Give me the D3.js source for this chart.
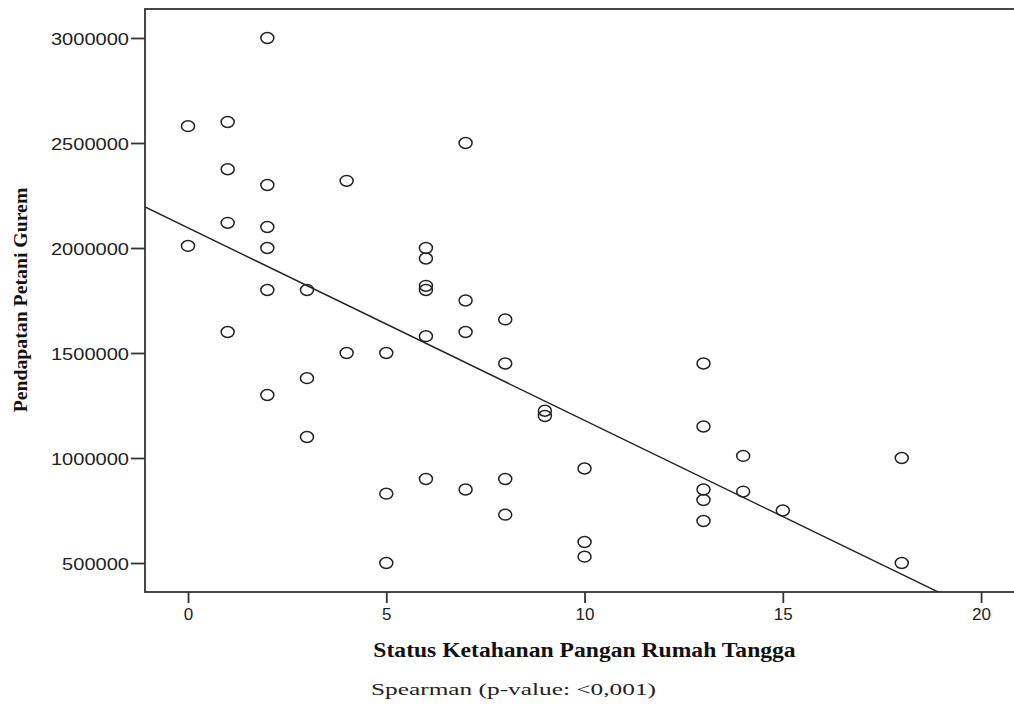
<!DOCTYPE html>
<html>
<head>
<meta charset="utf-8">
<script src="https://cdn.jsdelivr.net/npm/d3@7/dist/d3.min.js"></script>
<style>
  html, body { margin: 0; padding: 0; background: #fff; }
  svg { display: block; }
</style>
</head>
<body>
<svg id="chart" width="1014" height="704"></svg>
<script>
// ---- Data ----
const xValues = [
  0, 0,
  1, 1, 1, 1,
  2, 2, 2, 2, 2, 2,
  3, 3, 3,
  4, 4,
  5, 5, 5,
  6, 6, 6, 6, 6, 6,
  7, 7, 7, 7,
  8, 8, 8, 8,
  9, 9,
  10, 10, 10,
  13, 13, 13, 13, 13,
  14, 14,
  15,
  18, 18
];
const yValues = [
  2580000, 2010000,
  2600000, 2375000, 2120000, 1600000,
  3000000, 2300000, 2100000, 2000000, 1800000, 1300000,
  1800000, 1380000, 1100000,
  2320000, 1500000,
  1500000, 830000, 500000,
  2000000, 1950000, 1820000, 1800000, 1580000, 900000,
  2500000, 1750000, 1600000, 850000,
  1660000, 1450000, 900000, 730000,
  1225000, 1200000,
  950000, 600000, 530000,
  1450000, 1150000, 850000, 800000, 700000,
  1010000, 840000,
  750000,
  1000000, 500000
];
const xTicks = [0, 5, 10, 15, 20];
const yTicks = [500000, 1000000, 1500000, 2000000, 2500000, 3000000];
const fitIntercept = 2095800;
const fitSlope = -91640;
const xDomain = [-1.085, 20.78];
const yDomain = [362000, 3138000];
const xTitle = "Status Ketahanan Pangan Rumah Tangga";
const yTitle = "Pendapatan Petani Gurem";
const footnote = "Spearman (p-value: <0,001)";

// ---- Layout ----
const plot = { left: 145, top: 9, right: 1012, bottom: 592 };
const svg = d3.select("#chart");

const x = d3.scaleLinear().domain(xDomain).range([plot.left, plot.right]);
const y = d3.scaleLinear().domain(yDomain).range([plot.bottom, plot.top]);

svg.append("defs").append("clipPath").attr("id", "clip")
  .append("rect")
  .attr("x", plot.left).attr("y", plot.top)
  .attr("width", plot.right - plot.left + 10).attr("height", plot.bottom - plot.top);

// Frame (right edge falls outside the picture)
svg.append("rect")
  .attr("x", plot.left).attr("y", plot.top)
  .attr("width", 1030 - plot.left).attr("height", plot.bottom - plot.top)
  .attr("fill", "none").attr("stroke", "#333").attr("stroke-width", 1.8);

// Axes
const xAxis = svg.append("g")
  .attr("transform", `translate(0,${plot.bottom})`)
  .call(d3.axisBottom(x).tickValues(xTicks).tickFormat(d3.format("d")).tickSize(11).tickPadding(5));
const yAxis = svg.append("g")
  .attr("transform", `translate(${plot.left},0)`)
  .call(d3.axisLeft(y).tickValues(yTicks).tickFormat(d3.format("d")).tickSize(14).tickPadding(2));

[xAxis, yAxis].forEach(g => {
  g.select(".domain").remove();
  g.selectAll(".tick line").attr("stroke", "#333").attr("stroke-width", 1.8);
  g.selectAll(".tick text")
    .attr("fill", "#222")
    .style("font-family", "'Liberation Sans', Arial, sans-serif");
});
xAxis.selectAll(".tick text").style("font-size", "17px");
yAxis.selectAll(".tick text").style("font-size", "17px").attr("dy", "0.36em");
yAxis.selectAll(".tick text").each(function () {
  const w = this.getComputedTextLength();
  d3.select(this).attr("textLength", w * 1.18).attr("lengthAdjust", "spacingAndGlyphs");
});

// Regression line
const fit = d3.line().x(d => x(d)).y(d => y(fitIntercept + fitSlope * d));
svg.append("path")
  .attr("clip-path", "url(#clip)")
  .attr("d", fit(xDomain))
  .attr("fill", "none").attr("stroke", "#222").attr("stroke-width", 1.4);

// Points
svg.append("g").selectAll("ellipse")
  .data(xValues.map((v, i) => [v, yValues[i]]))
  .join("ellipse")
  .attr("cx", d => x(d[0]))
  .attr("cy", d => y(d[1]))
  .attr("rx", 6.5).attr("ry", 5.4)
  .attr("fill", "none").attr("stroke", "#222").attr("stroke-width", 1.5);

// Titles
function stretch(sel, factor) {
  sel.each(function () {
    const w = this.getComputedTextLength();
    d3.select(this).attr("textLength", w * factor).attr("lengthAdjust", "spacingAndGlyphs");
  });
}

const xt = svg.append("text")
  .attr("x", (plot.left + 1014) / 2 + 5).attr("y", 657)
  .attr("text-anchor", "middle")
  .style("font-family", "'Liberation Serif', 'Times New Roman', serif")
  .style("font-weight", "bold").style("font-size", "20px")
  .attr("fill", "#111")
  .text(xTitle);
stretch(xt, 1.18);

const yt = svg.append("text")
  .attr("transform", `translate(27,300) rotate(-90)`)
  .attr("text-anchor", "middle")
  .style("font-family", "'Liberation Serif', 'Times New Roman', serif")
  .style("font-weight", "bold").style("font-size", "19px")
  .attr("fill", "#111")
  .text(yTitle);
stretch(yt, 1.04);

const fn = svg.append("text")
  .attr("x", 371).attr("y", 695)
  .style("font-family", "'Liberation Serif', 'Times New Roman', serif")
  .style("font-size", "17px")
  .attr("fill", "#222")
  .text(footnote);
fn.attr("textLength", 285).attr("lengthAdjust", "spacingAndGlyphs");
</script>
</body>
</html>
